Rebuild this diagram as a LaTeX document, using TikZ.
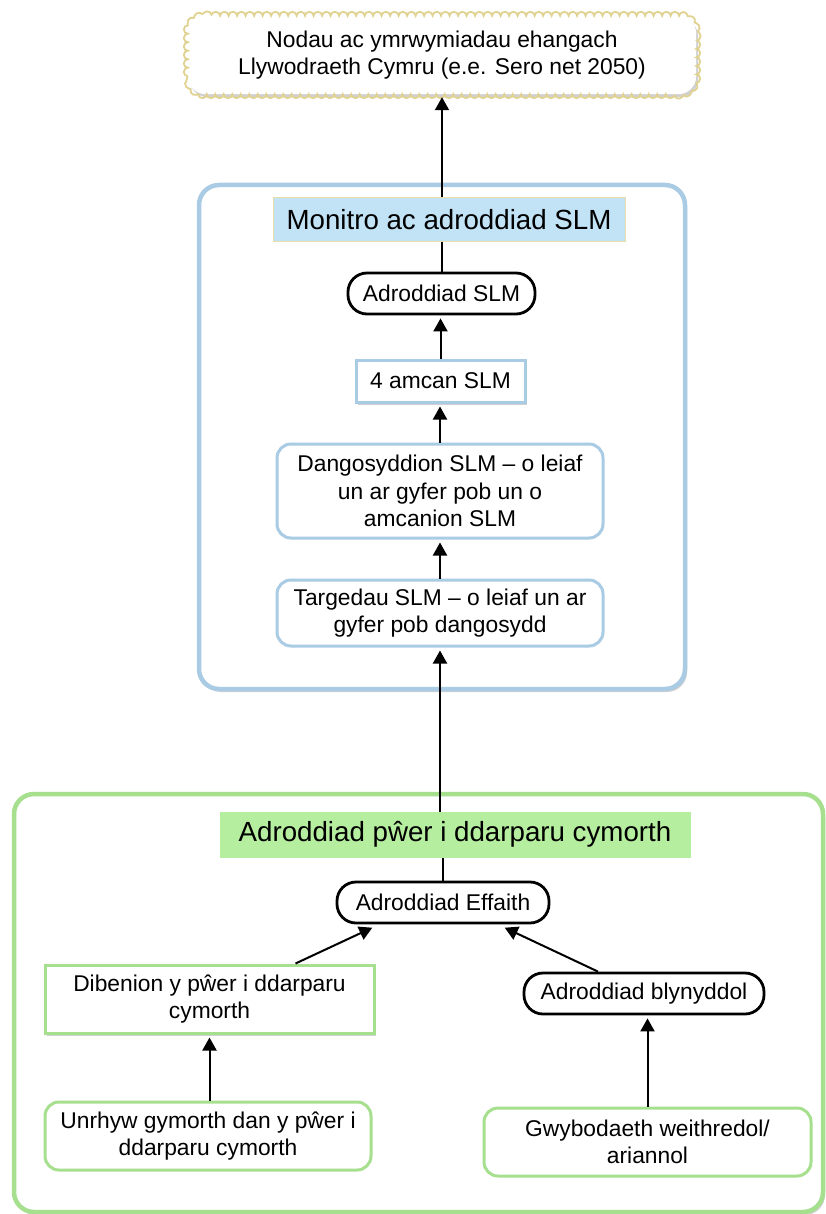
\documentclass[tikz,border=0pt]{standalone}
\usepackage{fontspec}
\setmainfont{Liberation Sans}
\usetikzlibrary{arrows.meta,shadows,decorations.pathmorphing,calc}
\definecolor{bluebd}{HTML}{A9CBE3}
\definecolor{greenbd}{HTML}{A6E08E}
\definecolor{bluefill}{HTML}{C2E2F6}
\definecolor{greenfill}{HTML}{B5EE9E}
\definecolor{cloudbd}{HTML}{E0D392}
\definecolor{titlebd}{HTML}{E9DDA8}
\begin{document}
\begin{tikzpicture}[x=1pt,y=-1pt,
  txt/.style={font=\fontsize{22.8}{27.4}\selectfont, align=center, inner sep=0pt},
  ttl/.style={font=\fontsize{27.7}{33}\selectfont, align=center, inner sep=0pt},
  shd/.style={drop shadow={shadow xshift=2pt, shadow yshift=-3pt, opacity=0.3, fill=black!60}},
  bluebox/.style={txt, draw=bluebd, line width=3pt, fill=white, rounded corners=14pt},
  greenbox/.style={txt, draw=greenbd, line width=3pt, fill=white, rounded corners=14pt},
  pill/.style={txt, draw=black, line width=2.8pt, fill=white, rounded corners=19pt},
  frame/.style={line width=4.5pt, rounded corners=20pt, fill=white},
  arr/.style={line width=2pt, -{Triangle[width=14pt,length=13pt]}, shorten >=3pt},
  ln/.style={line width=2pt}
]
\useasboundingbox (0,0) rectangle (826,1214);

% frames
\draw[frame, draw=bluebd, shd] (199,185) rectangle (685,689);
\draw[frame, draw=greenbd, shd] (14,794) rectangle (823,1212);

% cloud
\node[txt, minimum width=508pt, minimum height=78pt] (cloud) at (442,55) {};
\fill[white, shd, rounded corners=18pt] (cloud.south west) rectangle (cloud.north east);
\draw[cloudbd, line width=1.8pt, decoration={bumps, segment length=17pt, amplitude=4pt}]
  decorate {[rounded corners=18pt] (cloud.south west) rectangle (cloud.north east)};
\node[txt] at (cloud) {Nodau ac ymrwymiadau ehangach\\Llywodraeth Cymru (e.e. Sero net 2050)};

% blue section
\node[ttl, fill=bluefill, draw=titlebd, line width=1pt, minimum width=352pt, minimum height=44pt] (title1) at (449,220) {Monitro ac adroddiad SLM};
\node[pill, minimum width=187pt, minimum height=41pt] (slm) at (441.5,293.5) {Adroddiad SLM};
\node[txt, draw=bluebd, line width=3pt, fill=white, shd, minimum width=169pt, minimum height=42pt] (amcan) at (440.5,381) {4 amcan SLM};
\node[bluebox, minimum width=326pt, minimum height=94pt] (dang) at (440,491) {Dangosyddion SLM -- o leiaf\\un ar gyfer pob un o\\amcanion SLM};
\node[bluebox, minimum width=326pt, minimum height=66pt] (targ) at (440,613) {Targedau SLM -- o leiaf un ar\\gyfer pob dangosydd};

% green section
\node[ttl, fill=greenfill, draw=greenfill, line width=1pt, minimum width=470pt, minimum height=45pt] (title2) at (455,834.5) {Adroddiad pŵer i ddarparu cymorth};
\node[pill, minimum width=212pt, minimum height=41pt] (eff) at (443,902.5) {Adroddiad Effaith};
\node[txt, draw=greenbd, line width=3pt, fill=white, shd, minimum width=329pt, minimum height=68pt] (dib) at (209.5,999) {Dibenion y pŵer i ddarparu\\cymorth};
\node[pill, minimum width=240pt, minimum height=41pt] (blyn) at (644,993.5) {Adroddiad blynyddol};
\node[greenbox, minimum width=326pt, minimum height=68pt] (unr) at (208,1136) {Unrhyw gymorth dan y pŵer i\\ddarparu cymorth};
\node[greenbox, minimum width=327pt, minimum height=68pt] (gwy) at (647.5,1142) {Gwybodaeth weithredol/\\ariannol};

% connectors
\draw[arr] (title1.north -| cloud.south) -- (cloud.south);
\draw[ln] (slm.north) -- (slm.north |- title1.south);
\draw[arr] (amcan.north) -- (amcan.north |- slm.south);
\draw[arr] (dang.north) -- (dang.north |- amcan.south);
\draw[arr] (targ.north) -- (dang.south);
\draw[arr] (targ.south |- title2.north) -- (targ.south);
\draw[ln] (eff.north) -- (eff.north |- title2.south);
\draw[arr] ([xshift=86pt]dib.north) -- ([xshift=-68pt,yshift=-2pt]eff.south);
\draw[arr] ([xshift=-46pt]blyn.north) -- ([xshift=59pt,yshift=-2pt]eff.south);
\draw[arr] (dib.south |- unr.north) -- (dib.south);
\draw[arr] (gwy.north) -- (gwy.north |- blyn.south);
\end{tikzpicture}
\end{document}
